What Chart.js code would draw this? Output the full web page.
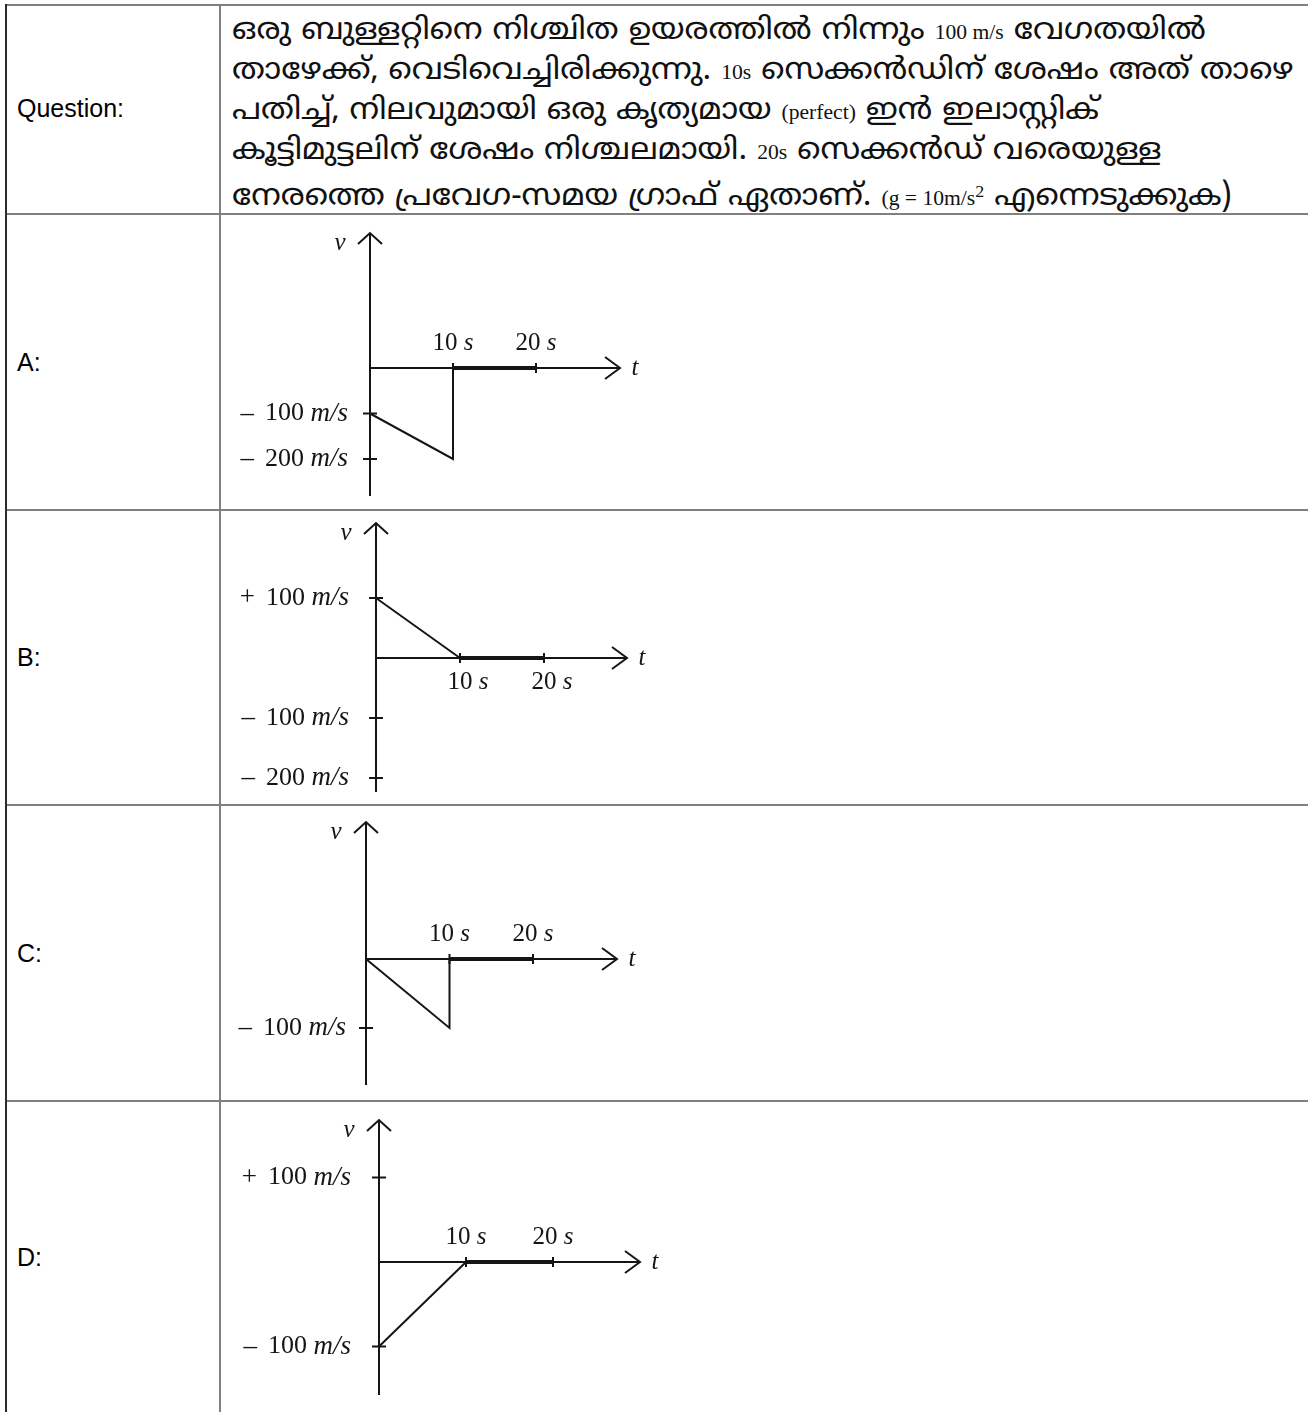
<!DOCTYPE html>
<html>
<head>
<meta charset="utf-8">
<script src="https://cdn.jsdelivr.net/npm/chart.js@4"></script>
<style>
  body { margin: 0; background: #fff; }
  #page { position: relative; width: 1308px; height: 1412px; overflow: hidden; background: #fff; }
  .hl { position: absolute; left: 5px; width: 1303px; height: 2px; background: #808080; }
  .vl { position: absolute; width: 2px; }
  .lbl { position: absolute; left: 17px; font: 25px "Liberation Sans", Arial, sans-serif; color: #000; transform: translateY(-50%); }
  .q { position: absolute; left: 232px; top: 12px; font: 30px "Noto Sans Malayalam", "Noto Sans", sans-serif; line-height: 39px; color: #111; white-space: nowrap; transform: scaleX(1.08); transform-origin: left top; }
  .q .en { font-family: "Liberation Serif", "Times New Roman", serif; font-size: 20px; }
  canvas { position: absolute; left: 221px; }
</style>
</head>
<body>
<div id="page">
  <div class="hl" style="top:4px"></div>
  <div class="hl" style="top:213px"></div>
  <div class="hl" style="top:509px"></div>
  <div class="hl" style="top:804px"></div>
  <div class="hl" style="top:1100px"></div>
  <div class="vl" style="left:5px;top:4px;height:1408px;background:#2b2b2b"></div>
  <div class="vl" style="left:219px;top:4px;height:1408px;background:#808080"></div>

  <div class="lbl" style="top:108px">Question:</div>
  <div class="lbl" style="top:362px">A:</div>
  <div class="lbl" style="top:657px">B:</div>
  <div class="lbl" style="top:953px">C:</div>
  <div class="lbl" style="top:1257px">D:</div>

  <div class="q">
    <div>ഒരു ബുള്ളറ്റിനെ നിശ്ചിത ഉയരത്തിൽ നിന്നും <span class="en">100 m/s</span> വേഗതയിൽ</div>
    <div>താഴേക്ക്, വെടിവെച്ചിരിക്കുന്നു. <span class="en">10s</span> സെക്കൻഡിന് ശേഷം അത് താഴെ</div>
    <div>പതിച്ച്, നിലവുമായി ഒരു കൃത്യമായ <span class="en">(perfect)</span> ഇൻ ഇലാസ്റ്റിക്</div>
    <div>കൂട്ടിമുട്ടലിന് ശേഷം നിശ്ചലമായി. <span class="en">20s</span> സെക്കൻഡ് വരെയുള്ള</div>
    <div>നേരത്തെ പ്രവേഗ-സമയ ഗ്രാഫ് ഏതാണ്. <span class="en">(g = 10m/s<sup>2</sup></span> എന്നെടുക്കുക)</div>
  </div>

  <canvas id="graphA" width="480" height="294" style="top:215px"></canvas>
  <canvas id="graphB" width="480" height="293" style="top:511px"></canvas>
  <canvas id="graphC" width="480" height="294" style="top:806px"></canvas>
  <canvas id="graphD" width="480" height="310" style="top:1102px"></canvas>
</div>

<script>
// v-t data for each option (t in s, v in m/s)
const timesA = [0, 10, 10, 20];
const velA = [-100, -200, 0, 0];
const timesB = [0, 10, 20];
const velB = [100, 0, 0];
const timesC = [0, 10, 10, 20];
const velC = [0, -100, 0, 0];
const timesD = [0, 10, 20];
const velD = [-100, 0, 0];

// tick labels
const timeTicks = [10, 20];
const velTicksA = [-100, -200];
const velTicksB = [100, -100, -200];
const velTicksC = [-100];
const velTicksD = [100, -100];

const INK = "#151515";
const SERIF = '"Liberation Serif", "Times New Roman", serif';

function drawParts(ctx, parts, x, y, align) {
  let total = 0;
  parts.forEach(p => {
    ctx.font = (p.it ? "italic " : "") + (p.size || 25) + "px " + SERIF;
    p.w = ctx.measureText(p.s).width + (p.gap || 0);
    total += p.w;
  });
  let cx = align === "right" ? x - total : align === "center" ? x - total / 2 : x;
  parts.forEach(p => {
    ctx.font = (p.it ? "italic " : "") + (p.size || 25) + "px " + SERIF;
    ctx.fillText(p.s, cx, y);
    cx += p.w;
  });
}

function velLabel(v) {
  return [
    { s: v > 0 ? "+" : "\u2013", size: 27, gap: 11 },
    { s: Math.abs(v) + " ", size: 26 },
    { s: "m/s", it: true, size: 27 },
  ];
}

// draws the arrowed axes, ticks and labels through the chart's scales
function axesPlugin(cfg, velTicks) {
  return {
    id: "vtAxes",
    beforeDatasetsDraw(chart) {
      const ctx = chart.ctx;
      const xs = chart.scales.x, ys = chart.scales.y;
      const x0 = xs.getPixelForValue(0), y0 = ys.getPixelForValue(0);
      const top = y0 - cfg.up, bottom = y0 + cfg.down, right = x0 + cfg.right;
      ctx.save();
      ctx.strokeStyle = INK;
      ctx.fillStyle = INK;
      ctx.lineWidth = 2;
      ctx.beginPath();
      ctx.moveTo(x0, bottom); ctx.lineTo(x0, top);
      ctx.moveTo(x0, y0); ctx.lineTo(right, y0);
      ctx.stroke();
      ctx.beginPath();
      ctx.moveTo(x0 - 12, top + 11); ctx.lineTo(x0, top); ctx.lineTo(x0 + 12, top + 11);
      ctx.moveTo(right - 15, y0 - 11); ctx.lineTo(right, y0); ctx.lineTo(right - 15, y0 + 11);
      ctx.stroke();

      ctx.textBaseline = "middle";
      timeTicks.forEach(t => {
        const px = xs.getPixelForValue(t);
        ctx.beginPath(); ctx.moveTo(px, y0 - 5); ctx.lineTo(px, y0 + 5); ctx.stroke();
        const ly = cfg.below ? y0 + 24 : y0 - 25;
        drawParts(ctx, [{ s: t + " " }, { s: "s", it: true }], px + (cfg.below ? 8 : 0), ly, "center");
      });
      velTicks.forEach(v => {
        const py = ys.getPixelForValue(v);
        ctx.beginPath(); ctx.moveTo(x0 - 7, py); ctx.lineTo(x0 + 7, py); ctx.stroke();
        drawParts(ctx, velLabel(v), x0 - cfg.gap, py, "right");
      });
      drawParts(ctx, [{ s: "v", it: true }], x0 - 30, top + 10, "center");
      drawParts(ctx, [{ s: "t", it: true }], right + 15, y0, "center");
      ctx.restore();
    }
  };
}

function makeGraph(id, times, vel, velTicks, cfg) {
  const canvas = document.getElementById(id);
  const W = canvas.width, H = canvas.height;
  new Chart(canvas, {
    type: "line",
    data: {
      datasets: [{
        data: times.map((t, i) => ({ x: t, y: vel[i] })),
        borderColor: INK,
        borderWidth: 2,
        pointRadius: 0,
        tension: 0,
        fill: false,
        segment: {
          // the resting part along the t axis is drawn heavier
          borderWidth: c => (c.p0.parsed.y === 0 && c.p1.parsed.y === 0 ? 4 : 2),
        },
      }],
    },
    options: {
      responsive: false,
      animation: false,
      events: [],
      layout: { padding: 0 },
      scales: {
        x: { type: "linear", display: false, min: -cfg.ox / cfg.kx, max: (W - cfg.ox) / cfg.kx },
        y: { type: "linear", display: false, min: -(H - cfg.oy) / cfg.ky, max: cfg.oy / cfg.ky },
      },
      plugins: { legend: { display: false }, tooltip: { enabled: false } },
    },
    plugins: [axesPlugin(cfg, velTicks)],
  });
}

makeGraph("graphA", timesA, velA, velTicksA, { ox: 149, oy: 153, kx: 8.3, ky: 0.455, up: 135, down: 128, right: 250, gap: 22 });
makeGraph("graphB", timesB, velB, velTicksB, { ox: 155, oy: 147, kx: 8.4, ky: 0.6, up: 135, down: 134, right: 251, gap: 27, below: true });
makeGraph("graphC", timesC, velC, velTicksC, { ox: 145, oy: 153, kx: 8.35, ky: 0.69, up: 137, down: 126, right: 251, gap: 20 });
makeGraph("graphD", timesD, velD, velTicksD, { ox: 158, oy: 160, kx: 8.7, ky: 0.845, up: 142, down: 133, right: 261, gap: 28 });
</script>
</body>
</html>
